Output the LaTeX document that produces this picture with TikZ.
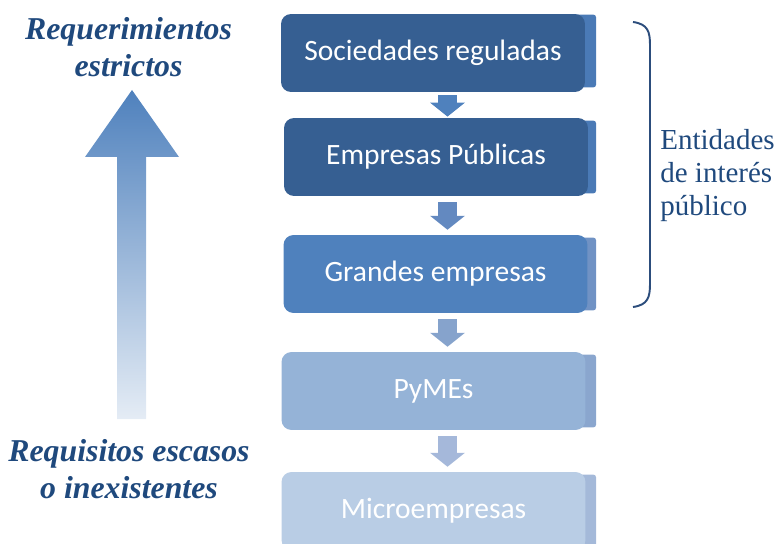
\documentclass[tikz,border=0pt]{standalone}
\usepackage{fontspec}
\setmainfont{Liberation Serif}
\newfontfamily\calibri{Carlito}
\usepackage{xcolor}
\usepackage{tikz}
\usetikzlibrary{positioning,calc,backgrounds}
\usepgflibrary{arrows.meta}

\definecolor{caja1}{HTML}{365F92}
\definecolor{caja3}{HTML}{4F81BD}
\definecolor{caja4}{HTML}{95B3D7}
\definecolor{caja5}{HTML}{B9CDE5}
\definecolor{pest1}{HTML}{4A7AB6}
\definecolor{pest3}{HTML}{7092C4}
\definecolor{pest4}{HTML}{8AA6CE}
\definecolor{pest5}{HTML}{A4B9D9}
\definecolor{flecha1}{HTML}{4F81BD}
\definecolor{flecha2}{HTML}{6389C0}
\definecolor{flecha3}{HTML}{86A3CC}
\definecolor{flecha4}{HTML}{A5B8DA}
\definecolor{texto}{HTML}{1F497D}
\definecolor{llave}{HTML}{2C4D7C}

\tikzset{
  caja/.style={rounded corners=0.2cm, minimum width=6.08cm, minimum height=1.56cm,
    text=white, font=\calibri\fontsize{16.8}{20}\selectfont},
  flecha/.style={line width=11.3pt, -{Triangle[width=19.3pt,length=7.9pt]},
    shorten <=3.4pt, shorten >=2.8pt},
  etiq/.style={align=center, text=texto, inner sep=0pt,
    font=\bfseries\itshape\fontsize{18.1}{21}\selectfont},
}

\begin{document}
\begin{tikzpicture}[x=0.02cm,y=-0.02cm]
  \useasboundingbox (0,0) rectangle (778,544);
  % cajas
  \node[caja,fill=caja1] (soc) at (433,53) {Sociedades reguladas};
  \node[caja,fill=caja1] (pub) at (436,157) {Empresas Públicas};
  \node[caja,fill=caja3] (gra) at (435.5,274) {Grandes empresas};
  \node[caja,fill=caja4] (pym) at (433.5,391) {PyMEs};
  \node[caja,fill=caja5] (mic) at (433.5,511) {Microempresas};
  % lenguetas detras de las cajas
  \coordinate (borde) at (596,0);
  \begin{scope}[on background layer]
    \fill[pest1,rounded corners=0.05cm] ($(soc.north east)+(-12,1)$) rectangle ($(soc.south east -| borde)+(0,-5)$);
    \fill[pest1,rounded corners=0.05cm] ($(pub.north east)+(-12,3)$) rectangle ($(pub.south east -| borde)+(0,-3)$);
    \fill[pest3,rounded corners=0.05cm] ($(gra.north east)+(-12,3)$) rectangle ($(gra.south east -| borde)+(0,-3)$);
    \fill[pest4,rounded corners=0.05cm] ($(pym.north east)+(-12,3)$) rectangle ($(pym.south east -| borde)+(0,-3)$);
    \fill[pest5,rounded corners=0.05cm] ($(mic.north east)+(-12,3)$) rectangle ($(mic.south east -| borde)+(0,-3)$);
  \end{scope}
  % flechas entre cajas
  \coordinate (eje) at (447.5,0);
  \draw[flecha,flecha1,shorten <=1.7pt,shorten >=0.6pt] (soc.south -| eje) -- (pub.north -| eje);
  \draw[flecha,flecha2] (pub.south -| eje) -- (gra.north -| eje);
  \draw[flecha,flecha3] (gra.south -| eje) -- (pym.north -| eje);
  \draw[flecha,flecha4] (pym.south -| eje) -- (mic.north -| eje);
  % flecha grande
  \shade[top color=caja3, bottom color=caja3!15!white]
    (132,90) -- (179,157) -- (146,157) -- (146,419) -- (117,419) -- (117,157) -- (85,157) -- cycle;
  \node[etiq] (req) at (128.5,47.5) {Requerimientos\\estrictos};
  \node[etiq] (esc) at (129,469) {Requisitos escasos\\o inexistentes};
  % llave
  \draw[llave,line width=1.1pt] (633,22) .. controls (648,24) and (650,32) .. (650,45)
    -- (650,284) .. controls (650,297) and (648,305) .. (633,307);
  \node[anchor=west, align=left, inner sep=0pt, text=texto,
    font=\fontsize{16.5}{18.7}\selectfont] (ent) at (660,175.5) {Entidades\\de interés\\público};
\end{tikzpicture}
\end{document}
